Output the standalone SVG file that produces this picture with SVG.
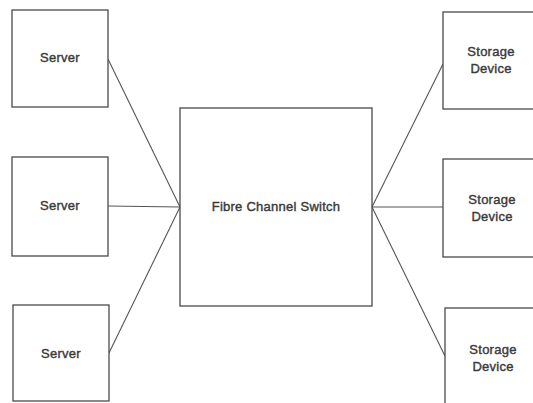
<svg xmlns="http://www.w3.org/2000/svg" width="533" height="403" viewBox="0 0 533 403">
  <style>
    .box { fill: #ffffff; stroke: #4a4a4a; stroke-width: 1.3; }
    .link { fill: none; stroke: #555555; stroke-width: 1.1; }
    .label { font-family: "Liberation Sans", Arial, sans-serif; font-size: 13px; letter-spacing: 0.25px; fill: #3a3a3a; stroke: #3a3a3a; stroke-width: 0.4; text-anchor: middle; }
  </style>
  <rect width="533" height="403" fill="#ffffff"/>

  <!-- connectors -->
  <g id="connectors">
    <line class="link" x1="108" y1="59" x2="180" y2="207"/>
    <line class="link" x1="108" y1="206" x2="180" y2="207"/>
    <line class="link" x1="109" y1="353" x2="180" y2="207"/>
    <line class="link" x1="372" y1="207" x2="443" y2="64"/>
    <line class="link" x1="372" y1="207" x2="443" y2="207"/>
    <line class="link" x1="372" y1="207" x2="445" y2="356"/>
  </g>

  <g id="server1">
    <rect class="box" x="12" y="10" width="96" height="97"/>
    <text class="label" x="60" y="62">Server</text>
  </g>
  <g id="server2">
    <rect class="box" x="12" y="157" width="96" height="99"/>
    <text class="label" x="60" y="210">Server</text>
  </g>
  <g id="server3">
    <rect class="box" x="13" y="305" width="96" height="96"/>
    <text class="label" x="61" y="358">Server</text>
  </g>

  <g id="switch">
    <rect class="box" x="180" y="108" width="192" height="198"/>
    <text class="label" x="276" y="211">Fibre Channel Switch</text>
  </g>

  <g id="storage1">
    <rect class="box" x="443" y="12" width="100" height="97"/>
    <text class="label" x="491" y="56">Storage</text>
    <text class="label" x="491" y="73">Device</text>
  </g>
  <g id="storage2">
    <rect class="box" x="443" y="159" width="100" height="98"/>
    <text class="label" x="492" y="204">Storage</text>
    <text class="label" x="492" y="221">Device</text>
  </g>
  <g id="storage3">
    <rect class="box" x="445" y="308" width="100" height="100"/>
    <text class="label" x="493" y="354">Storage</text>
    <text class="label" x="493" y="371">Device</text>
  </g>
</svg>
